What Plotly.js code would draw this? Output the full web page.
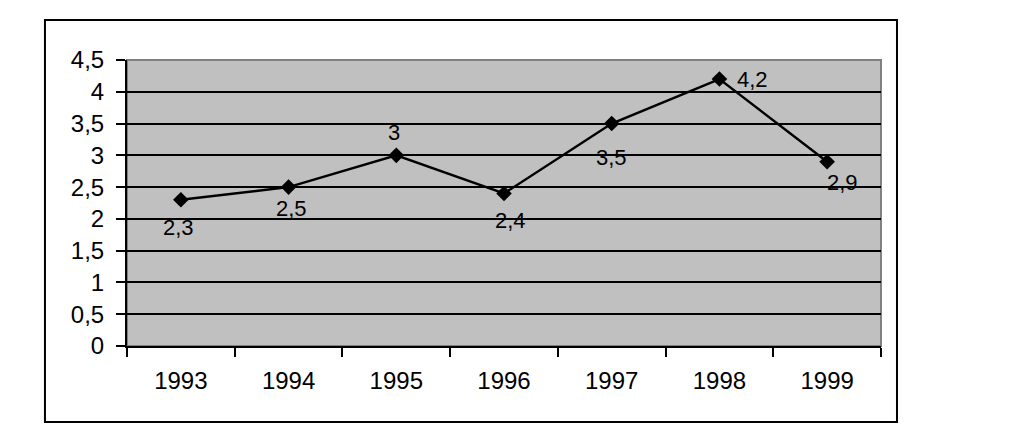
<!DOCTYPE html>
<html><head><meta charset="utf-8">
<script src="https://cdn.plot.ly/plotly-3.0.1.min.js"></script>
<style>body{margin:0;background:#fff}#c{width:1010px;height:446px}</style>
</head><body><div id="c"></div>
<script>
const years = ['1993','1994','1995','1996','1997','1998','1999'];
const values = [2.3, 2.5, 3, 2.4, 3.5, 4.2, 2.9];
const labels = ['2,3','2,5','3','2,4','3,5','4,2','2,9'];
const yTickVals = [0,0.5,1,1.5,2,2.5,3,3.5,4,4.5];
const yTickText = ['0','0,5','1','1,5','2','2,5','3','3,5','4','4,5'];
const labelShiftX = [-2, 3, -2, 6, 0, 33, 15];
const labelShiftY = [-28, -21, 23, -27, -34, 0, -21];

function mkFont(s){ return {family:'Liberation Sans, Arial, sans-serif', size:s, color:'#000'}; }
const annotations = years.map((y,i)=>({
  x:i, y:values[i], xref:'x', yref:'y', text:labels[i], showarrow:false,
  xshift:labelShiftX[i], yshift:labelShiftY[i], font:mkFont(22)
}));

const data = [{
  x: years, y: values, type:'scatter', mode:'lines+markers',
  line:{color:'#000', width:2.5},
  marker:{symbol:'diamond', size:12, color:'#000'},
  hoverinfo:'skip'
}];

const layout = {
  width:1010, height:446,
  margin:{l:127, r:129, t:60, b:100},
  paper_bgcolor:'#fff', plot_bgcolor:'#c0c0c0',
  showlegend:false, font:mkFont(22),
  xaxis:{type:'category', range:[-0.5,6.5], showgrid:false, zeroline:false,
    showline:true, linecolor:'#000', linewidth:2,
    ticks:'outside', tickson:'boundaries', ticklen:9, tickwidth:2, tickcolor:'#000',
    tickfont:mkFont(24), ticklabelstandoff:12, fixedrange:true},
  yaxis:{range:[0,4.5], tickvals:yTickVals, ticktext:yTickText,
    showgrid:true, gridcolor:'#000', gridwidth:2, zeroline:false,
    showline:true, linecolor:'#000', linewidth:2,
    ticks:'outside', ticklen:9, tickwidth:2, tickcolor:'#000',
    tickfont:mkFont(24), ticklabelstandoff:7, fixedrange:true},
  annotations: annotations,
  shapes:[
    {type:'rect', xref:'paper', yref:'paper', x0:0, x1:1, y0:0, y1:1,
     line:{color:'#808080', width:2}, layer:'below'},
    {type:'rect', xref:'paper', yref:'paper', x0:-0.1088, x1:1.0212, y0:-0.2657, y1:1.1399,
     line:{color:'#000', width:2}}
  ]
};
Plotly.newPlot('c', data, layout, {staticPlot:true, displayModeBar:false});
</script></body></html>
